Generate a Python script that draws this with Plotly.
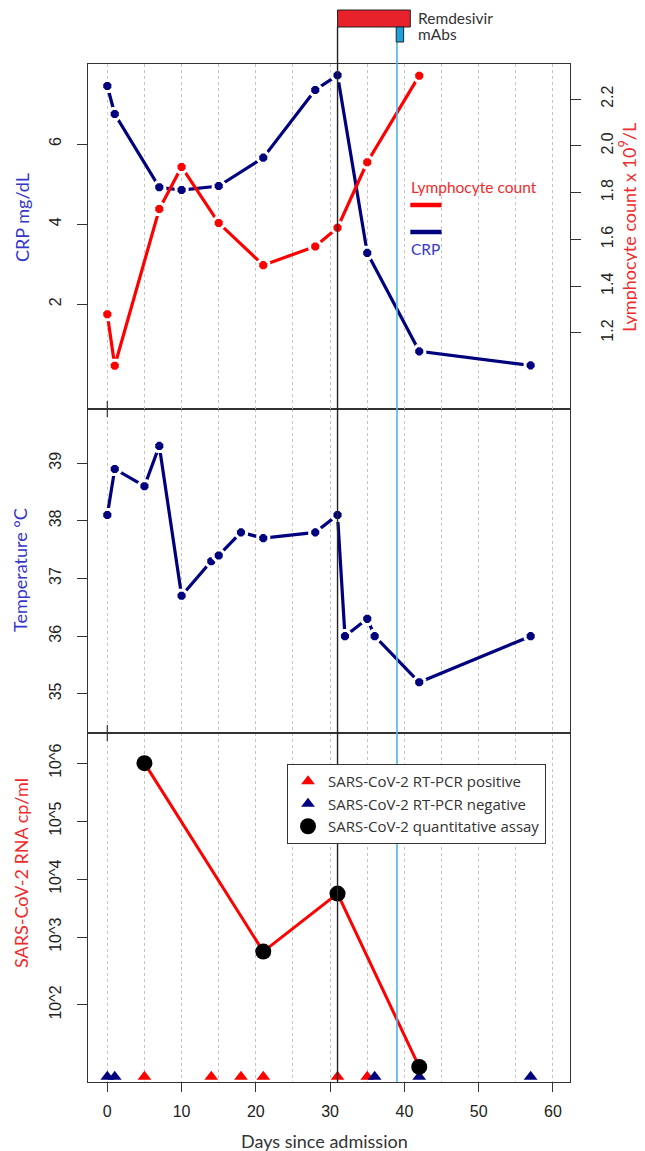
import plotly.graph_objects as go

# ---------------- data ----------------
crp_days = [0, 1, 7, 10, 15, 21, 28, 31, 35, 42, 57]
crp_vals = [7.45, 6.75, 4.92, 4.85, 4.95, 5.66, 7.35, 7.72, 3.28, 0.82, 0.47]

lym_days = [0, 1, 7, 10, 15, 21, 28, 31, 35, 42]
lym_vals = [1.28, 1.06, 1.73, 1.91, 1.67, 1.49, 1.57, 1.65, 1.93, 2.30]

temp_days = [0, 1, 5, 7, 10, 14, 15, 18, 21, 28, 31, 32, 35, 36, 42, 57]
temp_vals = [38.1, 38.9, 38.6, 39.3, 36.7, 37.3, 37.4, 37.8, 37.7, 37.8, 38.1,
             36.0, 36.3, 36.0, 35.2, 36.0]

rna_days = [5, 21, 31, 42]
rna_log10 = [6.0, 2.75, 3.75, 0.76]

pcr_pos_days = [5, 14, 18, 21, 31, 35]
pcr_neg_days = [0, 1, 36, 42, 57]

remdesivir_days = [31, 40.8]
mabs_day = 39

x_ticks = [0, 10, 20, 30, 40, 50, 60]
crp_ticks = [2, 4, 6]
lym_ticks = [1.2, 1.4, 1.6, 1.8, 2.0, 2.2]
temp_ticks = [35, 36, 37, 38, 39]
rna_tick_pos = [6, 5, 4, 3, 1.83]
rna_tick_text = ["10^6", "10^5", "10^4", "10^3", "10^2"]

# ---------------- styles ----------------
NAVY = "#00007f"
RED = "#ff0000"
BLUE_TXT = "#3636c8"
RED_TXT = "#f02b2b"
LBLUE = "#4db6e8"
AX = "#333333"
TICKFONT = dict(family="Liberation Sans, Arial", size=16, color="#222222")
TITLEFONT = "Lato, Open Sans, sans-serif"

OFF = 8                      # page offset of the figure (body margin)
W, H = 645 - OFF, 1151 - OFF
PL, PR, PT, PB = 88, 570, 64, 1082   # plot area in page pixels
ML, MR = PL - OFF, W - (PR - OFF)
MT, MB = PT - OFF, H - (PB - OFF)
plot_h = PB - PT
plot_w = PR - PL


def py(pix):
    """page pixel row -> paper y"""
    return (PB - pix) / plot_h


def px(pix):
    """page pixel column -> paper x"""
    return (pix - PL) / plot_w


d1 = [py(409), 1.0]
d2 = [py(733), py(409)]
d3 = [0.0, py(733)]

x_range = [-2.6, 62.3]
rna_base = 0.59  # where the PCR triangles sit (just above the axis floor)

fig = go.Figure()

mk_line = dict(color="white", width=3)

# Panel 1: CRP and lymphocytes
fig.add_trace(go.Scatter(x=crp_days, y=crp_vals, mode="lines+markers", xaxis="x3", yaxis="y",
                         line=dict(color=NAVY, width=3.2),
                         marker=dict(color=NAVY, size=12, symbol="octagon", line=mk_line),
                         showlegend=False, name="CRP"))
fig.add_trace(go.Scatter(x=lym_days, y=lym_vals, mode="lines+markers", xaxis="x3", yaxis="y4",
                         line=dict(color=RED, width=3.2),
                         marker=dict(color=RED, size=12, symbol="octagon", line=mk_line),
                         showlegend=False, name="Lymphocyte count"))

# Panel 2: temperature
fig.add_trace(go.Scatter(x=temp_days, y=temp_vals, mode="lines+markers", xaxis="x2", yaxis="y2",
                         line=dict(color=NAVY, width=3.2),
                         marker=dict(color=NAVY, size=12, symbol="octagon", line=mk_line),
                         showlegend=False, name="Temperature"))

# Panel 3: RNA
fig.add_trace(go.Scatter(x=rna_days, y=rna_log10, mode="lines", xaxis="x", yaxis="y3",
                         line=dict(color=RED, width=3), showlegend=False, hoverinfo="skip"))
fig.add_trace(go.Scatter(x=pcr_pos_days, y=[rna_base] * len(pcr_pos_days), mode="markers",
                         xaxis="x", yaxis="y3", cliponaxis=False,
                         marker=dict(color=RED, size=12, symbol="triangle-up"),
                         name="SARS-CoV-2 RT-PCR positive"))
fig.add_trace(go.Scatter(x=pcr_neg_days, y=[rna_base] * len(pcr_neg_days), mode="markers",
                         xaxis="x", yaxis="y3", cliponaxis=False,
                         marker=dict(color=NAVY, size=12, symbol="triangle-up"),
                         name="SARS-CoV-2 RT-PCR negative"))
fig.add_trace(go.Scatter(x=rna_days, y=rna_log10, mode="markers", xaxis="x", yaxis="y3",
                         cliponaxis=False,
                         marker=dict(color="black", size=16, symbol="circle"),
                         name="SARS-CoV-2 quantitative assay"))

common_x = dict(range=x_range, showline=True, mirror=True, linecolor=AX, linewidth=1.3,
                tickvals=x_ticks, showgrid=True, gridcolor="#c4c4c4", griddash="dot", gridwidth=1,
                minor=dict(dtick=5, tick0=0, showgrid=True, gridcolor="#c4c4c4", griddash="dot",
                           gridwidth=1),
                zeroline=False)

common_y = dict(showline=True, linecolor=AX, linewidth=1.3, showgrid=False,
                zeroline=False, ticks="outside", ticklen=10, tickcolor=AX, tickwidth=1.2,
                tickangle=-90, tickfont=TICKFONT)

fig.update_layout(
    width=W, height=H,
    margin=dict(l=ML, r=MR, t=MT, b=MB),
    paper_bgcolor="white", plot_bgcolor="white",
    xaxis=dict(**common_x, anchor="y3", domain=[0, 1], ticks="outside", ticklen=9,
               tickcolor=AX, tickwidth=1.2, tickfont=TICKFONT, showticklabels=True,
               ticklabelstandoff=6),
    xaxis2=dict(**common_x, anchor="y2", domain=[0, 1], matches="x", showticklabels=False),
    xaxis3=dict(**common_x, anchor="y", domain=[0, 1], matches="x", showticklabels=False),
    yaxis=dict(**common_y, mirror=True, domain=d1, anchor="x3", range=[-0.62, 8.0],
               tickvals=crp_ticks, ticklabelstandoff=9),
    yaxis4=dict(**common_y, overlaying="y", side="right", anchor="x3", range=[0.875, 2.35],
                tickvals=lym_ticks, tickformat=".1f", ticklabelstandoff=13),
    yaxis2=dict(**common_y, mirror=True, domain=d2, anchor="x2", range=[34.32, 39.94],
                tickvals=temp_ticks, ticklabelstandoff=9),
    yaxis3=dict(**common_y, mirror=True, domain=d3, anchor="x", range=[0.5, 6.52],
                tickvals=rna_tick_pos, ticktext=rna_tick_text, ticklabelstandoff=9),
    legend=dict(x=px(287), y=py(764), xanchor="left", yanchor="top",
                bgcolor="white", bordercolor=AX, borderwidth=1,
                font=dict(family="Open Sans, Lato, sans-serif", size=15, color="#333333"),
                itemwidth=30, tracegroupgap=0),
    showlegend=True,
)

shapes = []
# panel boundary ticks at day 0
for b in (409, 733):
    shapes.append(dict(type="line", xref="x", yref="paper", x0=0, x1=0,
                       y0=py(b + 8), y1=py(b - 8), line=dict(color=AX, width=1.2)))
# treatment lines
shapes.append(dict(type="line", xref="x", yref="paper", x0=remdesivir_days[0], x1=remdesivir_days[0],
                   y0=0, y1=py(27), line=dict(color="#222222", width=1.4)))
shapes.append(dict(type="line", xref="x", yref="paper", x0=mabs_day, x1=mabs_day,
                   y0=0, y1=py(42), line=dict(color=LBLUE, width=1.6)))
shapes.append(dict(type="rect", xref="x", yref="paper", x0=remdesivir_days[0], x1=remdesivir_days[1],
                   y0=py(27), y1=py(10), fillcolor="#e8222b", line=dict(color="#222222", width=1)))
shapes.append(dict(type="rect", xref="x", yref="paper", x0=mabs_day - 0.1, x1=mabs_day + 0.9,
                   y0=py(42), y1=py(27), fillcolor="#1ea0dc", line=dict(color="#222222", width=1)))
# panel-1 legend line keys
shapes.append(dict(type="line", xref="x", yref="paper", x0=40.8, x1=45.0, y0=py(205), y1=py(205),
                   line=dict(color=RED, width=4.5)))
shapes.append(dict(type="line", xref="x", yref="paper", x0=40.8, x1=45.0, y0=py(232), y1=py(232),
                   line=dict(color=NAVY, width=4.5)))
fig.update_layout(shapes=shapes)


def label(text, x, y, size, color, angle=0, xref="paper", xanchor="center"):
    return dict(text=text, xref=xref, yref="paper", x=x, y=y, xanchor=xanchor,
                yanchor="middle", textangle=angle, showarrow=False,
                font=dict(family=TITLEFONT, size=size, color=color))


ann = [
    label("Remdesivir", 41.6, py(18), 15.5, "#333333", xref="x", xanchor="left"),
    label("mAbs", 41.6, py(34), 15.5, "#333333", xref="x", xanchor="left"),
    label("Lymphocyte count", 40.6, py(187), 15.5, RED_TXT, xref="x", xanchor="left"),
    label("CRP", 40.6, py(249), 15.5, BLUE_TXT, xref="x", xanchor="left"),
    label("CRP mg/dL", px(22), py(218), 18, BLUE_TXT, angle=-90),
    label("Lymphocyte count x 10<sup>9</sup>/L", px(628), py(228), 18, RED_TXT, angle=-90),
    label("Temperature °C", px(20), py(570), 18, BLUE_TXT, angle=-90),
    label("SARS-CoV-2 RNA cp/ml", px(21), py(873), 18, RED_TXT, angle=-90),
    label("Days since admission", px(324), py(1141), 18, "#333333"),
]
fig.update_layout(annotations=ann)

fig.write_html("out.html")
